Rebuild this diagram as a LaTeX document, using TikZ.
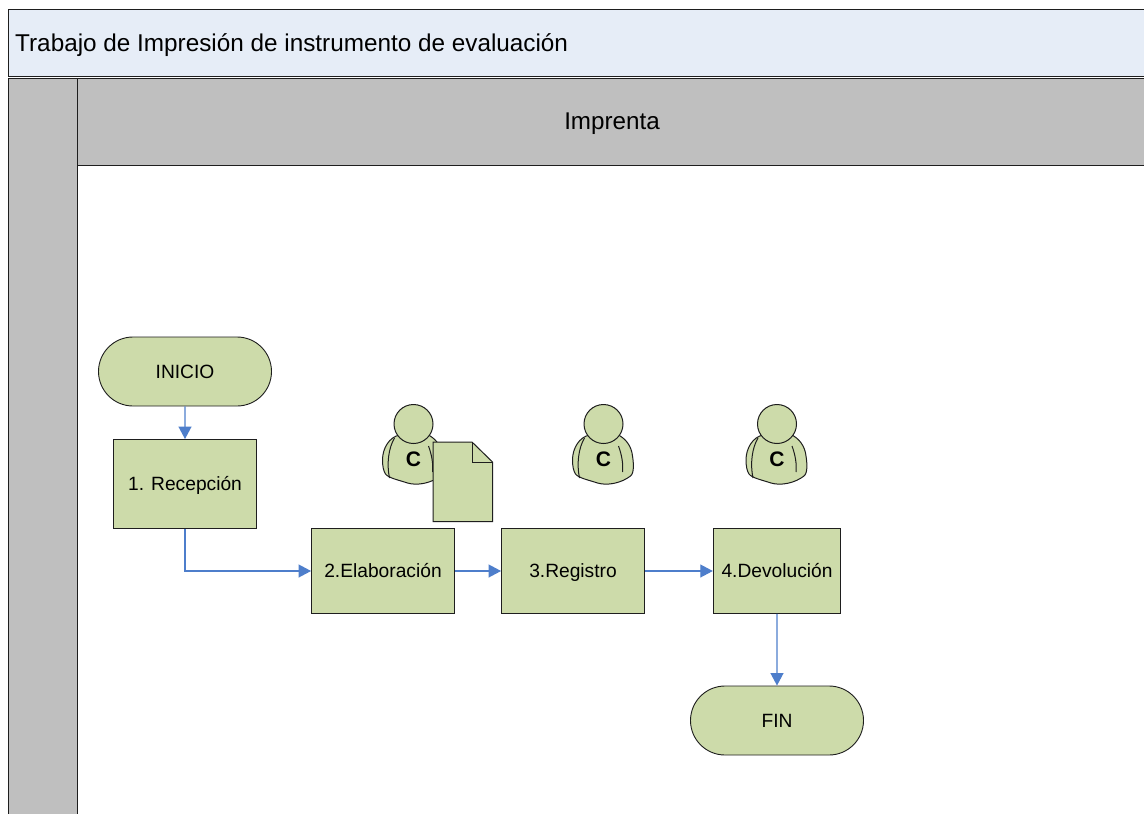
\documentclass[tikz,border=0pt]{standalone}
\usepackage{fontspec}
\setmainfont{Liberation Sans}
\usetikzlibrary{arrows.meta,shapes.misc}
\definecolor{boxgreen}{RGB}{205,219,170}
\definecolor{bandgray}{RGB}{191,191,191}
\definecolor{titleblue}{RGB}{230,237,247}
\definecolor{flowblue}{RGB}{78,126,203}
\definecolor{edge}{RGB}{30,30,30}
\tikzset{
  band/.style={draw=edge,line width=0.9pt},
  labeltext/.style={font=\fontsize{19.2}{22}\selectfont,text height=17pt,text depth=4pt},
  stepbox/.style={draw=edge,fill=boxgreen,line width=0.9pt,minimum width=#1,inner sep=0pt,labeltext},
  termbox/.style={draw=edge,fill=boxgreen,line width=0.9pt,rounded rectangle,minimum width=173pt,minimum height=69pt,inner sep=0pt,labeltext},
  flow/.style={draw=flowblue,line width=1.1pt,-{Triangle[length=12.5pt,width=13pt,fill=flowblue]}},
  person/.pic={
    \fill[boxgreen,draw=edge,line width=1pt]
      (-14,11) .. controls (-24,13) and (-31,24) .. (-31,36)
      .. controls (-31,42) and (-30,47) .. (-28,50)
      .. controls (-25,54) and (-15,56) .. (-6,59)
      .. controls (4,62) and (18,59) .. (27,52)
      .. controls (31,49) and (30,38) .. (29,32)
      .. controls (28,22) and (22,14) .. (13,10) -- cycle;
    \draw[edge,line width=1pt] (-19,14) .. controls (-25,24) and (-27,40) .. (-24,54);
    \draw[edge,line width=1pt] (15,22) .. controls (18,30) and (20,40) .. (19,48);
    \fill[boxgreen,draw=edge,line width=1pt] (0,0) circle (19.5);
    \node[font=\bfseries\fontsize{21}{24}\selectfont,inner sep=0pt] at (0,35) {C};
  }
}
\begin{document}
\begin{tikzpicture}[x=1pt,y=-1pt]
\useasboundingbox (0,0) rectangle (1144,814);
\fill[white] (0,0) rectangle (1144,814);
% bands
\path[band,fill=titleblue] (8,9) rectangle (1150,76);
\path[band,fill=bandgray] (8,78) rectangle (77,830);
\path[band,fill=bandgray] (77,78) rectangle (1150,165);
\node[anchor=west,inner sep=0pt,font=\fontsize{24.3}{28}\selectfont,text height=21pt,text depth=5pt] (title) at (15,43) {Trabajo de Impresión de instrumento de evaluación};
\node[inner sep=0pt,font=\fontsize{24.2}{28}\selectfont,text height=21pt,text depth=5pt] (lane) at (612,121) {Imprenta};
% nodes
\node[termbox] (inicio) at (185,371.5) {INICIO};
\node[stepbox=143pt,minimum height=89pt] (s1) at (185,484) {1. Recepción};
\node[stepbox=143pt,minimum height=85pt] (s2) at (383,571) {2.Elaboración};
\node[stepbox=143pt,minimum height=85pt] (s3) at (573,571) {3.Registro};
\node[stepbox=127.5pt,minimum height=85pt] (s4) at (777,571) {4.Devolución};
\node[termbox] (fin) at (777,720.5) {FIN};
% connectors
\draw[flow] (inicio) -- (s1);
\draw[flow] (s1.south) |- (s2.west);
\draw[flow] (s2) -- (s3);
\draw[flow] (s3) -- (s4);
\draw[flow] (s4) -- (fin);
% people
\pic at (413.5,424) {person};
\pic at (603.5,424) {person};
\pic at (777,424) {person};
% document
\draw[edge,fill=boxgreen,line width=1pt,line join=miter]
  (433,442) -- (472,442) -- (492.5,462) -- (492.5,521.5) -- (433,521.5) -- cycle;
\draw[edge,line width=1pt] (472,442) -- (472,462) -- (492.5,462);
\end{tikzpicture}
\end{document}
